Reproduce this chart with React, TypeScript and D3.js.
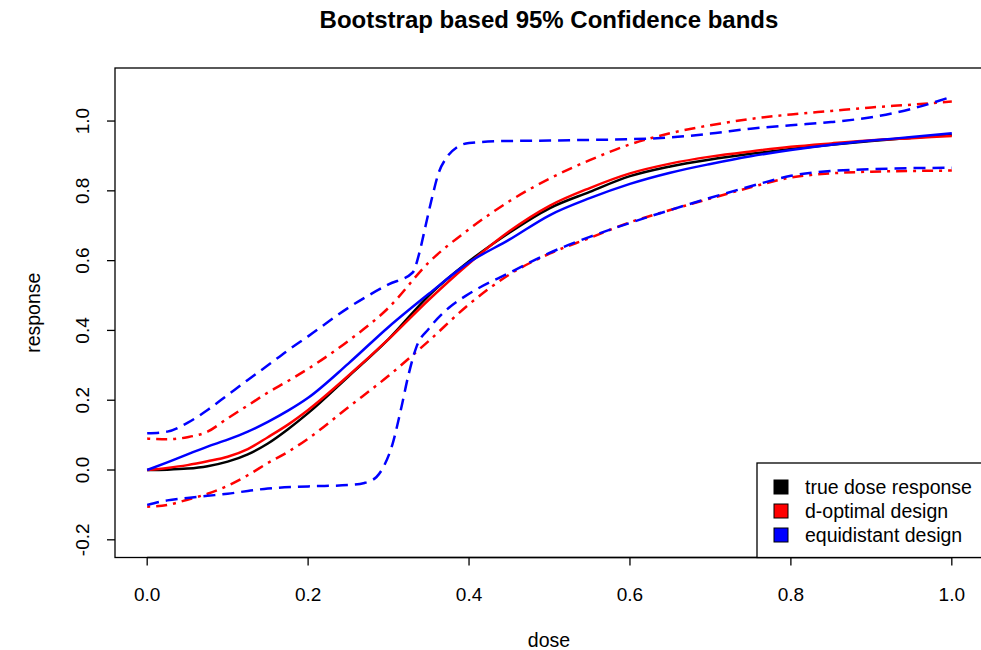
import React from "react";
import * as d3 from "d3";

// dose grid shared by the fitted curves and the d-optimal bands
const doseGrid = [0, 0.025, 0.05, 0.075, 0.1, 0.125, 0.15, 0.175, 0.2, 0.25, 0.3, 0.35, 0.4, 0.45, 0.5, 0.55, 0.6, 0.65, 0.7, 0.75, 0.8, 0.85, 0.9, 0.95, 1.0];

const trueResponse = [0, 0.001, 0.004, 0.011, 0.024, 0.045, 0.076, 0.117, 0.163, 0.268, 0.375, 0.5, 0.598, 0.68, 0.75, 0.797, 0.842, 0.87, 0.89, 0.906, 0.92, 0.932, 0.943, 0.952, 0.96];
const dOptFit = [0, 0.006, 0.014, 0.025, 0.038, 0.06, 0.094, 0.13, 0.172, 0.27, 0.375, 0.488, 0.592, 0.684, 0.757, 0.808, 0.85, 0.878, 0.898, 0.913, 0.926, 0.936, 0.945, 0.951, 0.957];
const dOptUpper = [0.09, 0.088, 0.094, 0.11, 0.148, 0.185, 0.222, 0.255, 0.29, 0.37, 0.465, 0.595, 0.69, 0.77, 0.835, 0.888, 0.933, 0.965, 0.988, 1.006, 1.019, 1.029, 1.039, 1.047, 1.056];
const dOptLower = [-0.105, -0.1, -0.085, -0.068, -0.045, -0.015, 0.02, 0.052, 0.09, 0.18, 0.27, 0.37, 0.475, 0.56, 0.62, 0.665, 0.71, 0.745, 0.778, 0.81, 0.838, 0.85, 0.855, 0.857, 0.858];
const equiFit = [0, 0.022, 0.045, 0.067, 0.087, 0.11, 0.138, 0.17, 0.207, 0.305, 0.41, 0.505, 0.595, 0.66, 0.73, 0.779, 0.82, 0.852, 0.877, 0.899, 0.917, 0.932, 0.944, 0.954, 0.965];

// equidistant bands need a finer grid around the jump
const equiUpperDose = [0, 0.025, 0.05, 0.075, 0.1, 0.125, 0.15, 0.175, 0.2, 0.25, 0.3, 0.33, 0.338, 0.346, 0.354, 0.362, 0.372, 0.385, 0.4, 0.45, 0.5, 0.55, 0.6, 0.65, 0.7, 0.75, 0.8, 0.85, 0.9, 0.95, 1.0];
const equiUpper = [0.105, 0.11, 0.135, 0.172, 0.215, 0.258, 0.3, 0.343, 0.383, 0.465, 0.532, 0.566, 0.62, 0.7, 0.78, 0.85, 0.895, 0.925, 0.937, 0.943, 0.944, 0.946, 0.948, 0.953, 0.964, 0.978, 0.988, 0.997, 1.011, 1.035, 1.07];
const equiLowerDose = [0, 0.025, 0.05, 0.075, 0.1, 0.125, 0.15, 0.2, 0.25, 0.27, 0.285, 0.295, 0.305, 0.315, 0.325, 0.335, 0.35, 0.375, 0.4, 0.45, 0.5, 0.55, 0.6, 0.65, 0.7, 0.75, 0.8, 0.85, 0.9, 0.95, 1.0];
const equiLower = [-0.1, -0.087, -0.08, -0.074, -0.068, -0.06, -0.053, -0.047, -0.043, -0.037, -0.02, 0.015, 0.075, 0.17, 0.275, 0.355, 0.405, 0.465, 0.505, 0.565, 0.622, 0.668, 0.708, 0.745, 0.78, 0.813, 0.843, 0.857, 0.862, 0.865, 0.866];

const xTicks = [0, 0.2, 0.4, 0.6, 0.8, 1.0];
const yTicks = [-0.2, 0, 0.2, 0.4, 0.6, 0.8, 1.0];

const legendLabels = ["true dose response", "d-optimal design", "equidistant design"];
const legendColors = ["black", "red", "blue"];

const width = 981;
const height = 650;
const left = 115;
const right = 984;
const top = 68;
const bottom = 557.5;

const x = d3.scaleLinear().domain([-0.04, 1.04]).range([left, right]);
const y = d3.scaleLinear().domain([-0.2507, 1.152]).range([bottom, top]);
// R prints a plain hyphen for negatives
const fmt = (v: number) => d3.format(".1f")(v).replace("\u2212", "-");
const font = "'Liberation Sans', Arial, Helvetica, sans-serif";

const line = d3
  .line<[number, number]>()
  .x((d) => x(d[0]))
  .y((d) => y(d[1]))
  .curve(d3.curveMonotoneX);

const path = (xs: number[], ys: number[]) => line(xs.map((d, i) => [d, ys[i]]) as [number, number][]) || "";

const dashed = "12,7";
const dotDash = "3,6,11,6";

const series = [
  { xs: doseGrid, ys: trueResponse, color: "black", dash: undefined },
  { xs: doseGrid, ys: dOptFit, color: "red", dash: undefined },
  { xs: doseGrid, ys: dOptUpper, color: "red", dash: dotDash },
  { xs: doseGrid, ys: dOptLower, color: "red", dash: dotDash },
  { xs: doseGrid, ys: equiFit, color: "blue", dash: undefined },
  { xs: equiUpperDose, ys: equiUpper, color: "blue", dash: dashed },
  { xs: equiLowerDose, ys: equiLower, color: "blue", dash: dashed },
];

export default function App() {
  return (
    <svg
      width={width}
      height={height}
      style={{ position: "absolute", left: 0, top: 0, background: "white" }}
      fontFamily={font}
    >
      <rect width={width} height={height} fill="white" />
      <text x={549} y={28} textAnchor="middle" fontWeight="bold" fontSize={24}>
        Bootstrap based 95% Confidence bands
      </text>

      {series.map((s, i) => (
        <path
          key={i}
          d={path(s.xs, s.ys)}
          fill="none"
          stroke={s.color}
          strokeWidth={2.5}
          strokeDasharray={s.dash}
        />
      ))}

      <rect x={left} y={top} width={right - left} height={bottom - top} fill="none" stroke="#000" strokeWidth={1.3} />

      {/* x axis */}
      <line x1={x(0)} x2={x(1)} y1={bottom} y2={bottom} stroke="#000" strokeWidth={1.3} />
      {xTicks.map((t) => (
        <g key={t}>
          <line x1={x(t)} x2={x(t)} y1={bottom} y2={bottom + 8} stroke="#000" strokeWidth={1.3} />
          <text x={x(t)} y={601} textAnchor="middle" fontSize={19}>
            {fmt(t)}
          </text>
        </g>
      ))}
      <text x={549} y={647} textAnchor="middle" fontSize={19.5}>
        dose
      </text>

      {/* y axis */}
      {yTicks.map((t) => (
        <g key={t}>
          <line x1={left - 8} x2={left} y1={y(t)} y2={y(t)} stroke="#000" strokeWidth={1.3} />
          <text transform={`translate(89,${y(t)}) rotate(-90)`} textAnchor="middle" fontSize={19}>
            {fmt(t)}
          </text>
        </g>
      ))}
      <text transform={`translate(40,${(top + bottom) / 2}) rotate(-90)`} textAnchor="middle" fontSize={19.5}>
        response
      </text>

      {/* legend */}
      <rect x={757} y={463} width={right - 757} height={bottom - 463} fill="white" stroke="#000" strokeWidth={1.3} />
      {legendLabels.map((l, i) => (
        <g key={l} transform={`translate(0,${487 + i * 24})`}>
          <rect x={774} y={-7} width={14} height={14} fill={legendColors[i]} stroke="#000" strokeWidth={1} />
          <text x={805} y={7} fontSize={19.5}>
            {l}
          </text>
        </g>
      ))}
    </svg>
  );
}
